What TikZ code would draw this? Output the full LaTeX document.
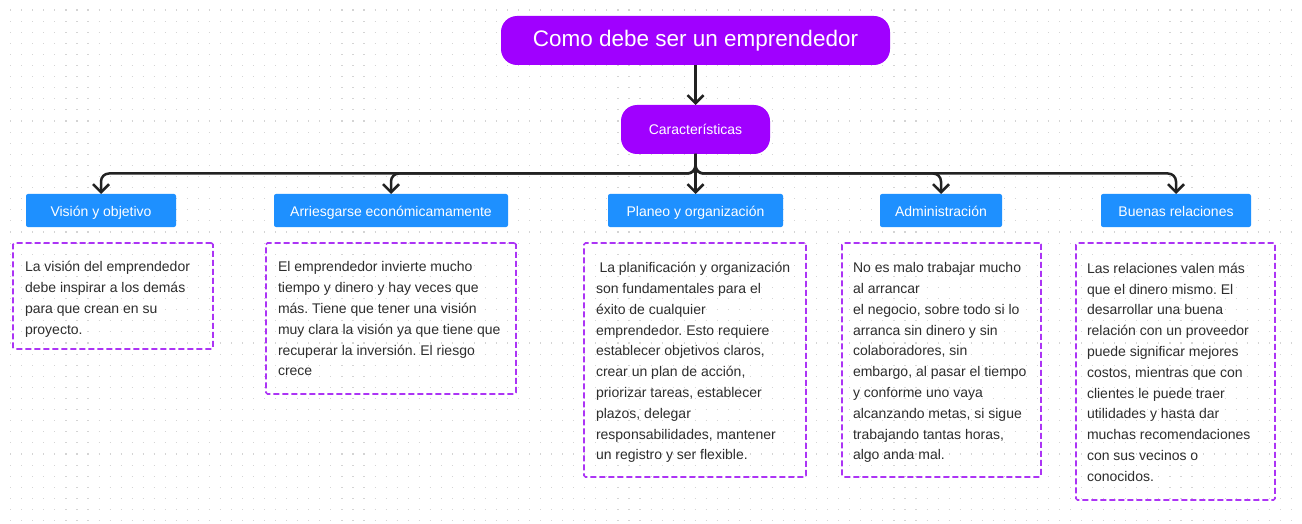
\documentclass[tikz,border=0pt]{standalone}
\usepackage{fontspec}
\setmainfont{Liberation Sans}
\frenchspacing
\usetikzlibrary{arrows.meta}
\definecolor{vpurple}{RGB}{160,0,255}
\definecolor{cblue}{RGB}{30,144,255}
\definecolor{dpurple}{RGB}{172,52,245}
\definecolor{linec}{RGB}{34,34,34}
\definecolor{ctext}{RGB}{45,45,45}
\definecolor{dotc}{RGB}{212,212,212}
\tikzset{
  titlebox/.style={fill=vpurple, rounded corners=16pt, text=white, inner sep=0pt, outer sep=0pt,
    font=\fontsize{22.5}{27}\selectfont},
  subbox/.style={titlebox, font=\fontsize{14}{17}\selectfont},
  bluebox/.style={fill=cblue, rounded corners=2pt, text=white, inner sep=0pt, outer sep=0pt,
    minimum height=33pt, text height=12pt, text depth=1pt, font=\fontsize{14}{17}\selectfont},
  dashbox/.style={draw=dpurple, line width=1.7pt, dash pattern=on 6pt off 3pt, inner sep=0pt,
    outer sep=0pt, anchor=north west, rounded corners=1.5pt},
  bodytext/.style={align=left, inner sep=0pt, outer sep=0pt, anchor=north west, text=ctext,
    font=\fontsize{14}{20.8}\selectfont},
  conn/.style={draw=linec, line width=2.5pt, -{Straight Barb[length=8pt,width=16pt]}},
  dotline/.style={draw=dotc, line width=1.1pt, dash pattern=on 1.1pt off 9.94pt}
}
\begin{document}
\begin{tikzpicture}[x=1pt,y=-1pt]
\useasboundingbox (0,0) rectangle (1302,524);
\fill[white] (0,0) rectangle (1302,524);
\foreach \j in {0,...,46} {
  \draw[dotline] (10.2,{10+11.1*\j}) -- (1302,{10+11.1*\j});
}
% main nodes
\node[titlebox, minimum width=389pt, minimum height=49pt] (title) at (695.5,40.5) {Como debe ser un emprendedor};
\node[subbox, minimum width=149pt, minimum height=49pt] (car) at (695.5,129.5) {Características};
% category boxes
\node[bluebox, minimum width=150pt] (b1) at (101,210.5) {Visión y objetivo};
\node[bluebox, minimum width=234pt] (b2) at (391,210.5) {Arriesgarse económicamamente};
\node[bluebox, minimum width=175pt] (b3) at (695.5,210.5) {Planeo y organización};
\node[bluebox, minimum width=122pt] (b4) at (941,210.5) {Administración};
\node[bluebox, minimum width=150pt] (b5) at (1176,210.5) {Buenas relaciones};
% connectors
\coordinate (bus) at (695.5,173.5);
\draw[conn] (title.south) -- (car.north);
\draw[conn] (car.south) -- (b3.north);
\foreach \b in {b1,b2,b4,b5} {
  \draw[conn, rounded corners=8pt] (car.south) -- (car.south |- bus) -| (\b.north);
}
% dashed description boxes
\node[dashbox, minimum width=200pt, minimum height=106pt] (d1) at (13,243) {};
\node[dashbox, minimum width=250pt, minimum height=151pt] (d2) at (266,243) {};
\node[dashbox, minimum width=222pt, minimum height=234pt] (d3) at (584,243) {};
\node[dashbox, minimum width=199pt, minimum height=234pt] (d4) at (842,243) {};
\node[dashbox, minimum width=199pt, minimum height=257pt] (d5) at (1076,243) {};
% texts
\node[bodytext] (t1) at ([xshift=12pt,yshift=-14.3pt]d1.north west) {\strut La visión del emprendedor\\debe inspirar a los demás\\para que crean en su\\proyecto.};
\node[bodytext] (t2) at ([xshift=12pt,yshift=-14.3pt]d2.north west) {\strut El emprendedor invierte mucho\\tiempo y dinero y hay veces que\\más. Tiene que tener una visión\\muy clara la visión ya que tiene que\\recuperar la inversión. El riesgo\\crece};
\node[bodytext] (t3) at ([xshift=12pt,yshift=-15.2pt]d3.north west) {\strut\hspace*{3.5pt}La planificación y organización\\son fundamentales para el\\éxito de cualquier\\emprendedor. Esto requiere\\establecer objetivos claros,\\crear un plan de acción,\\priorizar tareas, establecer\\plazos, delegar\\responsabilidades, mantener\\un registro y ser flexible.};
\node[bodytext] (t4) at ([xshift=11pt,yshift=-15.2pt]d4.north west) {\strut No es malo trabajar mucho\\al arrancar\\el negocio, sobre todo si lo\\arranca sin dinero y sin\\colaboradores, sin\\embargo, al pasar el tiempo\\y conforme uno vaya\\alcanzando metas, si sigue\\trabajando tantas horas,\\algo anda mal.};
\node[bodytext] (t5) at ([xshift=11pt,yshift=-15.8pt]d5.north west) {\strut Las relaciones valen más\\que el dinero mismo. El\\desarrollar una buena\\relación con un proveedor\\puede significar mejores\\costos, mientras que con\\clientes le puede traer\\utilidades y hasta dar\\muchas recomendaciones\\con sus vecinos o\\conocidos.};
\end{tikzpicture}
\end{document}
